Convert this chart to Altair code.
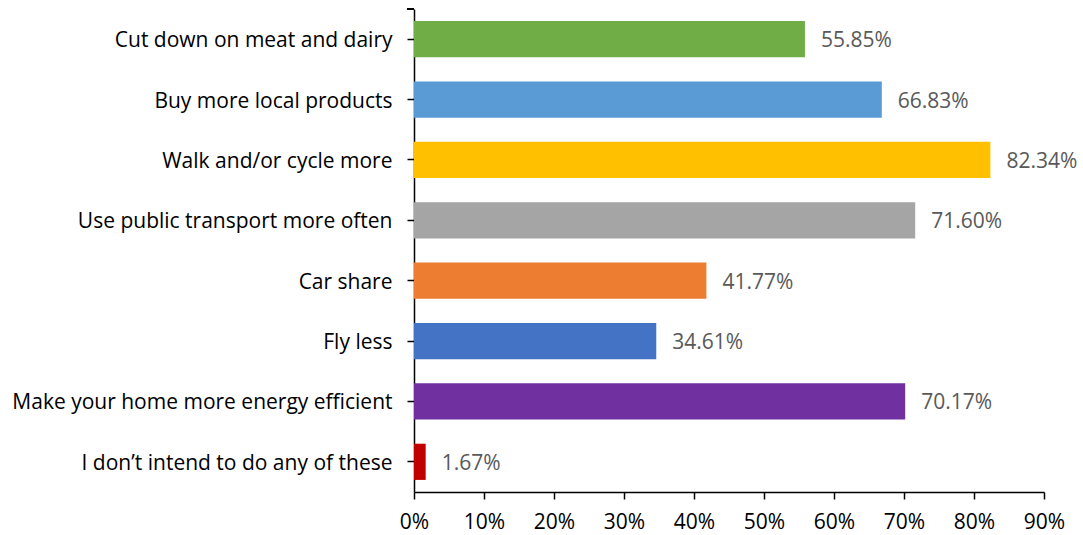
import altair as alt
import pandas as pd

categories = [
    "Cut down on meat and dairy",
    "Buy more local products",
    "Walk and/or cycle more",
    "Use public transport more often",
    "Car share",
    "Fly less",
    "Make your home more energy efficient",
    "I don\u2019t intend to do any of these",
]
values = [55.85, 66.83, 82.34, 71.60, 41.77, 34.61, 70.17, 1.67]
colors = ["#70AD47", "#5B9BD5", "#FFC000", "#A5A5A5", "#ED7D31", "#4472C4", "#7030A0", "#C00000"]

df = pd.DataFrame({
    "cat": categories,
    "val": [v / 100 for v in values],
    "label": [f"{v:.2f}%" for v in values],
    "color": colors,
})

FONT = "Open Sans"
FS = 21

y_enc = alt.Y(
    "cat:N",
    sort=categories,
    title=None,
    scale=alt.Scale(paddingInner=0.4, paddingOuter=0.2),
    axis=alt.Axis(
        labelFont=FONT, labelFontSize=FS, labelColor="#000000",
        domainColor="#000000", domainWidth=1.5,
        tickColor="#000000", tickWidth=1.5, tickSize=7,
        labelPadding=15, labelLimit=500, labelOffset=2,
    ),
)

x_enc = alt.X(
    "val:Q",
    title=None,
    scale=alt.Scale(domain=[0, 0.9], nice=False),
    axis=alt.Axis(
        format=".0%", values=[i / 10 for i in range(10)],
        labelFont=FONT, labelFontSize=FS, labelColor="#000000",
        domainColor="#000000", domainWidth=1.5,
        tickColor="#000000", tickWidth=1.5, tickSize=7,
        labelPadding=12, grid=False, labelFlush=False,
    ),
)

bars = alt.Chart(df).mark_bar().encode(
    x=x_enc,
    y=y_enc,
    color=alt.Color("color:N", scale=None, legend=None),
)

text = alt.Chart(df).mark_text(
    align="left", baseline="middle", dx=16, dy=2, font=FONT, fontSize=FS, color="#595959"
).encode(
    x="val:Q",
    y=alt.Y("cat:N", sort=categories),
    text="label:N",
)

top_tick = alt.Chart(df).mark_rule(color="#000000", strokeWidth=1.5).encode(
    x=alt.value(-7), x2=alt.value(0), y=alt.value(0)
)

chart = alt.layer(bars, text, top_tick).properties(
    width=630,
    height=483,
    autosize=alt.AutoSizeParams(type="none"),
    padding={"left": 414, "top": 9, "right": 39, "bottom": 43},
).configure_view(stroke=None)

chart.save("out.html", embed_options={"renderer": "svg", "actions": False})
